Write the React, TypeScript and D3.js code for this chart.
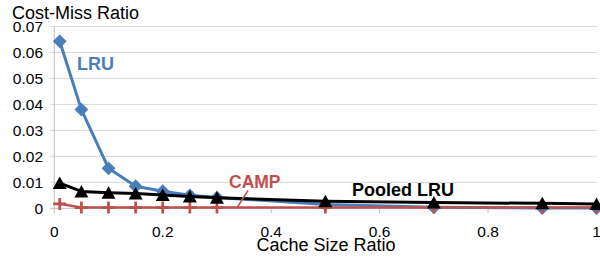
import React from 'react';
import * as d3 from 'd3';

const xValues = [0.01, 0.05, 0.1, 0.15, 0.2, 0.25, 0.3, 0.5, 0.7, 0.9, 1.0];
const lruValues = [0.0643, 0.038, 0.0154, 0.0085, 0.0066, 0.005, 0.0042, 0.0015, 0.0004, 0.0001, 0.0001];
const campValues = [0.0017, 0.0003, 0.0003, 0.0003, 0.0003, 0.0003, 0.0003, 0.0003, 0.0003, 0.0003, 0.0003];
const pooledValues = [0.0097, 0.0065, 0.006, 0.0057, 0.0051, 0.0045, 0.0041, 0.0027, 0.0022, 0.0019, 0.0017];

const xTicks = [0, 0.2, 0.4, 0.6, 0.8, 1];
const yTicks = [0, 0.01, 0.02, 0.03, 0.04, 0.05, 0.06, 0.07];

const width = 600;
const height = 259;
const FONT = '"Liberation Sans", Arial, sans-serif';

export default function App() {
  const x = d3.scaleLinear().domain([0, 1]).range([54.3, 596.5]);
  const y = d3.scaleLinear().domain([0, 0.07]).range([208.3, 26.5]);

  const line = (vals: number[]) =>
    d3.line<number>()
      .x((_, i) => x(xValues[i]))
      .y(d => y(d))(vals) || '';

  // excel-style markers
  const diamond = d3.symbol().type(d3.symbolSquare).size(96)() || '';
  const triangle = 'M0,-6.5L7,6L-7,6Z';
  const plus = 'M-6.5,0H6.5M0,-6V6';

  const blue = '#4A7EBB';
  const red = '#C0504D';

  return (
    <svg width={width} height={height} style={{ position: 'absolute', left: 0, top: 0 }} fontFamily={FONT}>
      <rect width={width} height={height} fill="#fff" />
      {/* grid */}
      {yTicks.filter(t => t > 0).map(t => (
        <line key={t} x1={x(0) - 4} x2={x(1) + 0.5} y1={y(t)} y2={y(t)} stroke="#d9d9d9" strokeWidth={1} />
      ))}
      {/* axes */}
      <line x1={x(0)} x2={x(0)} y1={y(0.07)} y2={y(0)} stroke="#bfbfbf" />
      <line x1={x(0) - 4} x2={x(1) + 0.5} y1={y(0)} y2={y(0)} stroke="#bfbfbf" />
      {xTicks.map(t => (
        <line key={t} x1={x(t)} x2={x(t)} y1={y(0)} y2={y(0) + 5} stroke="#bfbfbf" />
      ))}
      {yTicks.map(t => (
        <text key={t} x={43} y={y(t) + 5.5} textAnchor="end" fontSize={15.5} fill="#000">
          {t === 0 ? '0' : t.toFixed(2)}
        </text>
      ))}
      {xTicks.map(t => (
        <text key={t} x={x(t)} y={236.5} textAnchor="middle" fontSize={15.5} fill="#000">
          {t === 0 || t === 1 ? String(t) : t.toFixed(1)}
        </text>
      ))}
      <text x={12} y={18.5} fontSize={18} fill="#000">Cost-Miss Ratio</text>
      <text x={326} y={251} textAnchor="middle" fontSize={18} fill="#000">Cache Size Ratio</text>

      {/* LRU */}
      <path d={line(lruValues)} fill="none" stroke={blue} strokeWidth={3} strokeLinejoin="round" />
      {lruValues.map((v, i) => (
        <path key={i} d={diamond} transform={`translate(${x(xValues[i])},${y(v)}) rotate(45)`} fill={blue} />
      ))}
      {/* CAMP */}
      <path d={line(campValues)} fill="none" stroke={red} strokeWidth={2.5} strokeLinejoin="round" />
      {campValues.map((v, i) => (
        <path key={i} d={plus} transform={`translate(${x(xValues[i])},${y(v)})`} stroke={red} strokeWidth={2.75} fill="none" />
      ))}
      {/* Pooled LRU */}
      <path d={line(pooledValues)} fill="none" stroke="#000" strokeWidth={3} strokeLinejoin="round" />
      {pooledValues.map((v, i) => (
        <path key={i} d={triangle} transform={`translate(${x(xValues[i])},${y(v)})`} fill="#000" />
      ))}

      {/* labels */}
      <text x={77} y={70} fontSize={18} fontWeight="bold" fill={blue}>LRU</text>
      <text x={229} y={188} fontSize={17.5} fontWeight="bold" fill={red}>CAMP</text>
      <line x1={248} y1={190.5} x2={237.5} y2={207} stroke={red} strokeWidth={1.5} />
      <text x={352} y={196} fontSize={18} fontWeight="bold" fill="#000">Pooled LRU</text>
    </svg>
  );
}
